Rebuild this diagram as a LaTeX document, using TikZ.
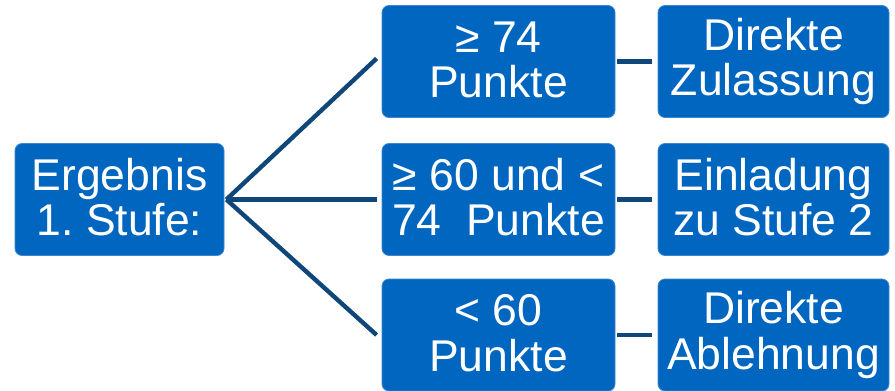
\documentclass[tikz,border=0pt]{standalone}
\usepackage{fontspec}
\setmainfont{Liberation Sans}
\definecolor{boxblue}{HTML}{0066BF}
\definecolor{boxedge}{HTML}{3F88CF}
\definecolor{linknavy}{HTML}{0F477B}
\newcommand\ms{\rule[-5pt]{0pt}{37pt}}
\frenchspacing
\begin{document}
\begin{tikzpicture}[x=1pt,y=-1pt,
  blk/.style={draw=boxedge, line width=0.8pt, fill=boxblue, rounded corners=7pt,
    text=white, align=center, inner sep=0pt, minimum height=112pt,
    font=\fontsize{44.5}{45.5}\selectfont},
  link/.style={draw=linknavy, line width=4.4pt}]
\useasboundingbox (0,0) rectangle (895,391);
\node[blk, minimum width=209pt] (root) at (119.5,199.5) {\ms Ergebnis\\\ms 1. Stufe:};
\node[blk, minimum width=233pt] (m1) at (498.5,61.5) {\ms ≥ 74\\\ms Punkte};
\node[blk, minimum width=233pt] (m2) at (498.5,199.5) {\ms ≥ 60 und <\\\ms 74\ \ Punkte};
\node[blk, minimum width=233pt] (m3) at (498.5,335) {\ms < 60\\\ms Punkte};
\node[blk, minimum width=231pt] (r1) at (773.5,61.5) {\ms Direkte\\\ms Zulassung};
\node[blk, minimum width=231pt] (r2) at (773.5,199.5) {\ms Einladung\\\ms zu Stufe 2};
\node[blk, minimum width=231pt] (r3) at (773.5,335) {\ms Direkte\\\ms Ablehnung};
\coordinate (apex) at ([xshift=2pt]root.east);
\draw[link] (apex) -- ([xshift=-5pt,yshift=3pt]m1.west);
\draw[link] (apex) -- ([xshift=-5pt]m2.west);
\draw[link] (apex) -- ([xshift=-5pt]m3.west);
\draw[link] ([xshift=2pt]m1.east) -- ([xshift=-6pt]r1.west);
\draw[link] ([xshift=2pt]m2.east) -- ([xshift=-6pt]r2.west);
\draw[link] ([xshift=2pt]m3.east) -- ([xshift=-6pt]r3.west);
\end{tikzpicture}
\end{document}
